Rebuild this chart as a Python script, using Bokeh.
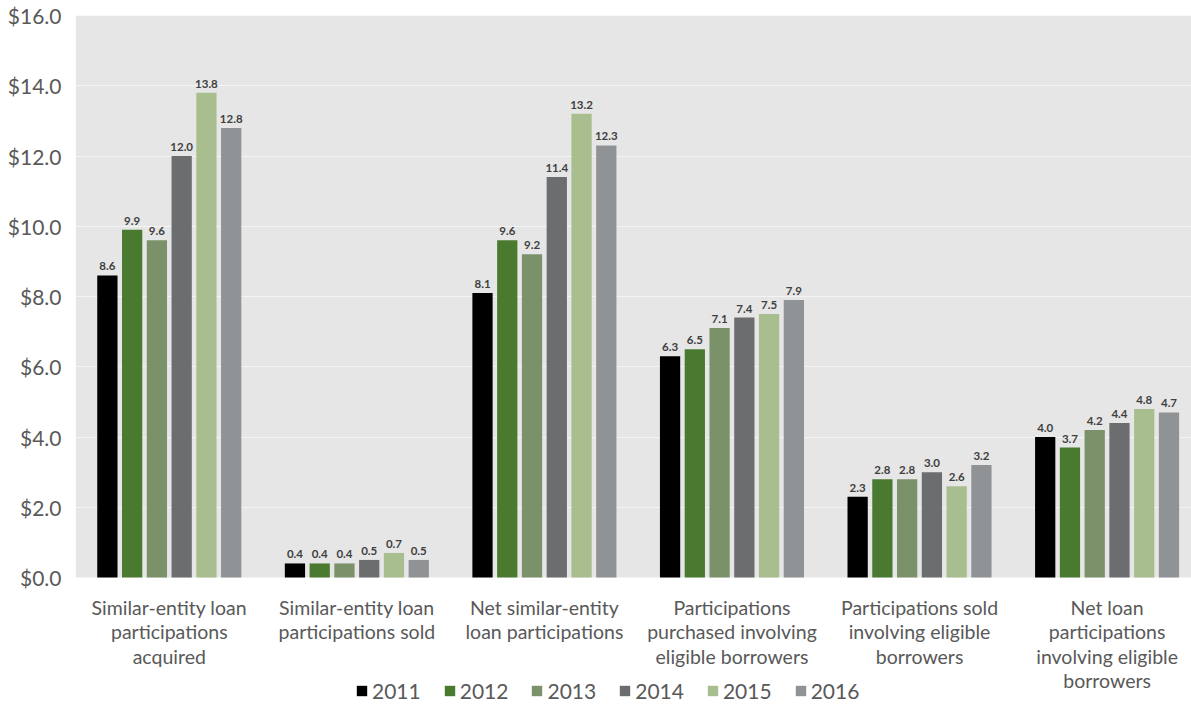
import numpy as np
from bokeh.plotting import figure
from bokeh.models import (ColumnDataSource, FixedTicker, NumeralTickFormatter,
                          Legend, LegendItem, Range1d, BoxAnnotation)
from bokeh.core.properties import value
from bokeh.embed import file_html
from bokeh.resources import INLINE

categories = [
    "Similar-entity loan\nparticipations\nacquired",
    "Similar-entity loan\nparticipations sold",
    "Net similar-entity\nloan participations",
    "Participations\npurchased involving\neligible borrowers",
    "Participations sold\ninvolving eligible\nborrowers",
    "Net loan\nparticipations\ninvolving eligible\nborrowers",
]
years = ["2011", "2012", "2013", "2014", "2015", "2016"]
v2011 = [8.6, 0.4, 8.1, 6.3, 2.3, 4.0]
v2012 = [9.9, 0.4, 9.6, 6.5, 2.8, 3.7]
v2013 = [9.6, 0.4, 9.2, 7.1, 2.8, 4.2]
v2014 = [12.0, 0.5, 11.4, 7.4, 3.0, 4.4]
v2015 = [13.8, 0.7, 13.2, 7.5, 2.6, 4.8]
v2016 = [12.8, 0.5, 12.3, 7.9, 3.2, 4.7]
series = [v2011, v2012, v2013, v2014, v2015, v2016]
colors = ["#000000", "#4a7a30", "#7b9169", "#6b6d6e", "#a9be8f", "#8f9396"]
y_ticks = [0, 2, 4, 6, 8, 10, 12, 14, 16]

FONT = "Lato"
TXT = "#595959"
Y_MAX = 16
Y_MIN = -Y_MAX * 138 / 562  # room below zero for category labels and legend

p = figure(width=1191, height=715, output_backend="svg", toolbar_location=None,
           x_range=Range1d(0, 5.95), y_range=Range1d(Y_MIN, Y_MAX),
           min_border_left=75, min_border_right=0, min_border_top=15,
           min_border_bottom=0)
p.background_fill_color = "#ffffff"
p.border_fill_color = "#ffffff"
p.outline_line_color = None

plot_bg = BoxAnnotation(bottom=0, top=Y_MAX, fill_color="#e6e6e6", fill_alpha=1,
                        line_color=None, level="image")
p.add_layout(plot_bg)

centers = np.arange(len(categories)) + 0.5
pitch = 0.132
bw = 0.108
items = []
for i, (yr, vals, col) in enumerate(zip(years, series, colors)):
    xs = centers + (i - 2.5) * pitch
    src = ColumnDataSource(dict(x=xs, top=vals, lab=[f"{v:.1f}" for v in vals]))
    r = p.vbar(x="x", top="top", width=bw, bottom=0, source=src,
               fill_color=col, line_color=None)
    p.text(x="x", y="top", text="lab", source=src, text_align="center",
           text_baseline="bottom", y_offset=-5, text_font=value(FONT),
           text_font_size="11.5px", text_font_style="bold", text_color="#404040")
    items.append(LegendItem(label=yr, renderers=[r]))

# category labels under the groups
cat_src = ColumnDataSource(dict(x=centers, y=[0] * len(centers), t=categories))
p.text(x="x", y="y", text="t", source=cat_src, text_align="center",
       text_baseline="top", y_offset=18, text_font=value(FONT),
       text_font_size="19.5px", text_color=TXT, text_line_height=1.07)

p.xaxis.visible = False

p.yaxis.ticker = FixedTicker(ticks=y_ticks)
p.yaxis.formatter = NumeralTickFormatter(format="$0.0")
p.yaxis.major_label_text_font = FONT
p.yaxis.major_label_text_font_size = "21px"
p.yaxis.major_label_text_color = TXT
p.yaxis.major_label_standoff = 8
p.yaxis.axis_line_color = None
p.yaxis.major_tick_line_color = None
p.yaxis.minor_tick_line_color = None

p.xgrid.grid_line_color = None
p.ygrid.grid_line_color = "#f4f4f4"
p.ygrid.grid_line_width = 1

legend = Legend(items=items, orientation="horizontal", location=(280, 12),
                label_text_font=FONT, label_text_font_size="21px",
                label_text_color=TXT, glyph_width=13, glyph_height=13,
                label_standoff=4, spacing=22, padding=0, margin=0,
                background_fill_alpha=0, border_line_alpha=0)
p.add_layout(legend, "center")

open("out.html", "w").write(file_html(p, INLINE))
